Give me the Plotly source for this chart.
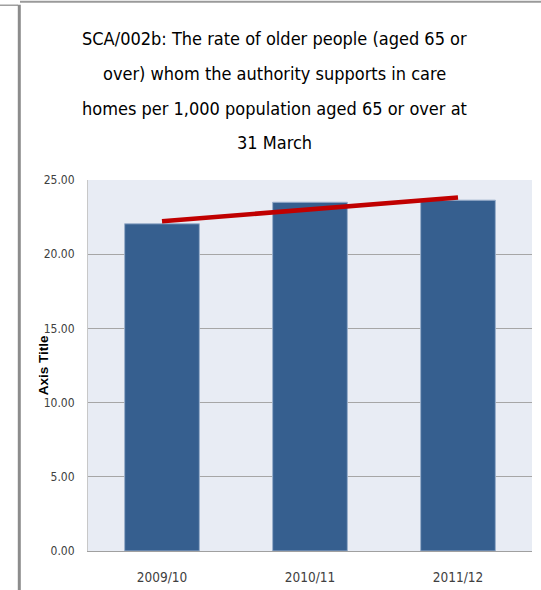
import plotly.graph_objects as go

categories = ["2009/10", "2010/11", "2011/12"]
values = [22.05, 23.50, 23.64]
trend_values = [22.22, 23.02, 23.82]
y_ticks = [0, 5, 10, 15, 20, 25]
y_tick_labels = ["0.00", "5.00", "10.00", "15.00", "20.00", "25.00"]
title_lines = [
    "SCA/002b: The rate of older people (aged 65 or",
    "over) whom the authority supports in care",
    "homes per 1,000 population aged 65 or over at",
    "31 March",
]

NARROW = "'DejaVu Sans Condensed', 'Liberation Sans Narrow', 'Arial Narrow', sans-serif"

W, H = 541, 590
L, R, T, B = 88, 9, 179.5, 39
PW, PH = W - L - R, H - T - B


def px(x):
    return (x - L) / PW


def py(y):
    return (H - B - y) / PH


fig = go.Figure()
fig.add_trace(go.Bar(
    x=categories, y=values, width=0.505,
    marker=dict(color="#365F8F", line=dict(color="#9AAFCB", width=1)),
    showlegend=False,
))
fig.add_trace(go.Scatter(
    x=categories, y=trend_values, mode="lines",
    line=dict(color="#C00000", width=4.5),
    showlegend=False,
))

annotations = []
title_y = [38, 73, 108, 142]
for line, yy in zip(title_lines, title_y):
    annotations.append(dict(
        text=line, x=px(274), y=py(yy), xref="paper", yref="paper",
        showarrow=False, xanchor="center", yanchor="middle",
        font=dict(family=NARROW, size=18, color="#000000"),
    ))
annotations.append(dict(
    text="<b>Axis Title</b>", x=px(43), y=py(365), xref="paper", yref="paper",
    showarrow=False, xanchor="center", yanchor="middle", textangle=-90,
    font=dict(family="Liberation Sans, Arial, sans-serif", size=13.5, color="#000000"),
))

shapes = [
    dict(type="line", xref="paper", yref="paper", x0=px(0), x1=px(18), y0=py(4.5), y1=py(4.5),
         line=dict(color="#A0A0A0", width=1.5)),
    dict(type="line", xref="paper", yref="paper", x0=px(19.3), x1=px(19.3), y0=py(4), y1=py(H + 5),
         line=dict(color="#8C8C8C", width=3)),
    dict(type="line", xref="paper", yref="paper", x0=px(20), x1=px(W + 5), y0=py(1), y1=py(1),
         line=dict(color="#9A9A9A", width=2)),
]

fig.update_layout(
    width=W, height=H,
    margin=dict(l=L, r=R, t=T, b=B, pad=0, autoexpand=False),
    paper_bgcolor="#FFFFFF",
    plot_bgcolor="#E8ECF4",
    bargap=0.495,
    annotations=annotations,
    shapes=shapes,
    xaxis=dict(
        showgrid=False, showline=True, linecolor="#A0A0A0", linewidth=1,
        ticks="", ticklabelstandoff=14, automargin=False,
        tickfont=dict(family=NARROW, size=13.5, color="#404040"),
    ),
    yaxis=dict(
        range=[0, 25], tickvals=y_ticks, ticktext=y_tick_labels,
        showgrid=True, gridcolor="#A6A6A6", gridwidth=1,
        showline=True, linecolor="#C8C8C8", linewidth=1, mirror=False,
        zeroline=False, ticks="", ticklabelstandoff=10, automargin=False,
        tickfont=dict(family=NARROW, size=12, color="#404040"),
    ),
)

fig.write_html(
    "out.html",
    config={"displayModeBar": False},
    post_script="document.body.style.margin='0';document.body.style.overflow='hidden';",
)
